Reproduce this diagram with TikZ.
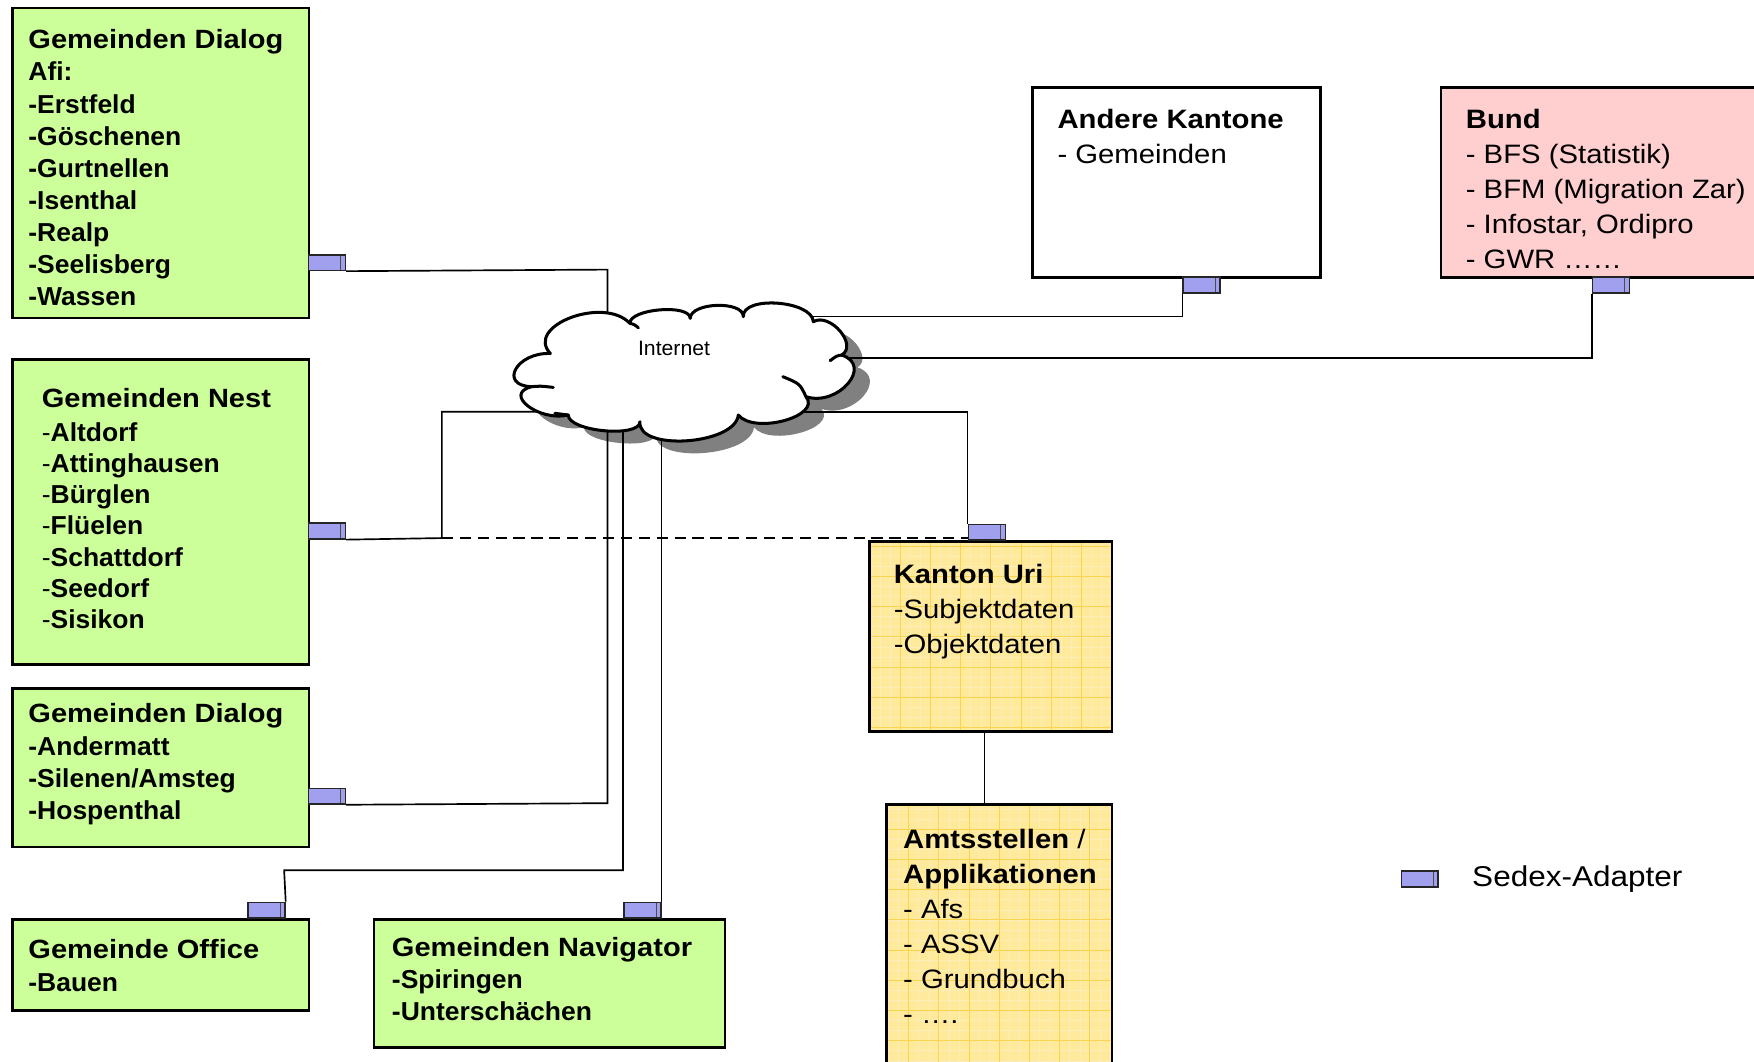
\documentclass[tikz,border=0pt]{standalone}
\usepackage{fontspec}
\setmainfont{Liberation Sans}
\newfontfamily\tfont{Liberation Sans}[FakeStretch=1.1]
\newfontfamily\lfont{Liberation Sans}[FakeStretch=1.02]

\definecolor{gfill}{RGB}{204,255,153}
\definecolor{pfill}{RGB}{255,206,206}
\definecolor{yfill}{RGB}{255,233,155}
\definecolor{ygrid}{RGB}{250,212,80}
\definecolor{afill}{RGB}{160,160,238}
\definecolor{shadowc}{RGB}{128,128,128}

\newcommand\cloudpath{(492,316) .. controls (468.7,291.3) and (539.7,264.3) .. (563,289)
 .. controls (563,275.9) and (617,271.5) .. (617,284.6)
 .. controls (617.3,270.1) and (664.8,268.6) .. (664.5,283.1)
 .. controls (663.4,264) and (726,268.5) .. (727.1,287.6)
 .. controls (742.1,278.9) and (767.4,308.7) .. (752.4,317.4)
 .. controls (781.1,326.7) and (749.2,363.9) .. (720.5,354.6)
 .. controls (734.8,372.2) and (674.3,388.6) .. (660,371)
 .. controls (657.3,397.7) and (569.4,403.7) .. (572.1,377)
 .. controls (572,391.7) and (507.9,385.7) .. (508,371)
 .. controls (481.8,377.2) and (449.1,351.9) .. (475.3,345.7)
 .. controls (445.3,344.6) and (461.7,314.8) .. (492,316) -- cycle}

\begin{document}
\begin{tikzpicture}[x=0.5pt,y=-0.5pt,
  box/.style={draw=black, line width=1.2pt, inner sep=0pt, anchor=north west},
  gbox/.style={box, fill=gfill},
  wbox/.style={box, fill=white},
  pbox/.style={box, fill=pfill},
  ybox/.style={box, fill=yfill, path picture={
     \draw[ygrid!40, line width=0.15pt, step=4.5pt] (path picture bounding box.south west) grid (path picture bounding box.north east);
     \draw[ygrid, line width=0.3pt, step=13.5pt] (path picture bounding box.south west) grid (path picture bounding box.north east);}},
  adapter/.style={draw=black!85, line width=0.7pt, fill=afill, inner sep=0pt, anchor=north west,
     minimum width=16.5pt, minimum height=7pt, path picture={
     \draw[black!70, line width=0.3pt] ([xshift=-2.2pt]path picture bounding box.north east) -- ([xshift=-2.2pt]path picture bounding box.south east);}},
  conn/.style={line width=0.75pt, black},
  cloudline/.style={draw=black, line width=1.35pt, line join=round, line cap=round},
  gtxt/.style={anchor=base west, align=left, inner sep=0pt, font=\lfont\bfseries\fontsize{11.6}{#1}\selectfont},
  gtxt/.default=14.35pt,
  rtxt/.style={anchor=base west, align=left, inner sep=0pt, font=\tfont\fontsize{11.9}{15.65}\selectfont}
]
\useasboundingbox (0,0) rectangle (1568,948.5);
\clip (0,0) rectangle (1568,948.5);

% cloud shadow
\fill[shadowc, shift={(14,11)}] \cloudpath;
\coordinate (cloudc) at (611,333);

% boxes
\node[gbox, minimum width=132.5pt, minimum height=138.5pt] (dialogA) at (10,6) {};
\node[gbox, minimum width=132.5pt, minimum height=136.5pt] (nest) at (10,320) {};
\node[gbox, minimum width=132.5pt, minimum height=71pt] (dialogB) at (10,614) {};
\node[gbox, minimum width=132.5pt, minimum height=40.5pt] (office) at (10,821) {};
\node[gbox, minimum width=157pt, minimum height=57pt] (navigator) at (333,821) {};
\node[wbox, minimum width=128.5pt, minimum height=85pt] (andere) at (922,77) {};
\node[pbox, minimum width=150pt, minimum height=85pt] (bund) at (1287,77) {};
\node[ybox, minimum width=108.5pt, minimum height=85pt] (kanton) at (776,483) {};
\node[ybox, minimum width=101pt, minimum height=130pt] (amt) at (791,718) {};

% adapters
\node[adapter] (adA) at (275,227) {};
\node[adapter] (adB) at (275,467) {};
\node[adapter] (adC) at (275,704) {};
\node[adapter] (adD) at (221,806) {};
\node[adapter] (adE) at (557,806) {};
\node[adapter] (adF) at (1057,247) {};
\node[adapter] (adG) at (1423,247) {};
\node[adapter] (adH) at (865,468) {};
\node[adapter] (adL) at (1252,778) {};

% junction coordinates
\coordinate (jA) at (543,241);
\coordinate (jB) at (395,481);
\coordinate (jB2) at (395,368);
\coordinate (jC) at (543,718);
\coordinate (jD1) at (254,778);
\coordinate (jD2) at (557,778);
\coordinate (jF) at (1057,283);
\coordinate (jG) at (1423,320);
\coordinate (jH) at (865,368);
\coordinate (jHI) at (880,0);

% connectors
\draw[conn] (adA.south east) -- (jA) -- (jA |- cloudc);
\draw[conn] (adB.south east) -- (jB) -- (jB2) -- (jB2 -| cloudc);
\draw[conn, dash pattern=on 5pt off 3pt] (jB) -- (jB -| adH.south west);
\draw[conn] (adC.south east) -- (jC) -- (jC |- cloudc);
\draw[conn] (adD.north east) -- (jD1) -- (jD2) -- (jD2 |- cloudc);
\draw[conn] (adE.north east) -- (adE.north east |- cloudc);
\draw[conn] (adF.south west) -- (jF) -- (jF -| cloudc);
\draw[conn] (adG.south west) -- (jG) -- (jG -| cloudc);
\draw[conn] (adH.north west) -- (jH) -- (jH -| cloudc);
\draw[conn] (kanton.south -| jHI) -- (amt.north -| jHI);

% cloud
\path[fill=white, cloudline] \cloudpath;
\draw[cloudline] (475.3,345.7) .. controls (483,345) .. (494.6,346.3);
\draw[cloudline] (720.5,354.6) .. controls (715,343) .. (699.8,336.7);
\draw[cloudline] (752.4,317.4) .. controls (748,318) .. (742.1,322.4);
\draw[cloudline] (563,289) .. controls (567,290) .. (570.7,293);
\draw[cloudline] (508,371) .. controls (502,370) .. (496,369.5);
\node[anchor=base west, inner sep=0pt, font=\lfont\fontsize{9.3}{11}\selectfont] (inet) at (570,317.4) {Internet};

% texts (anchored at the baseline of their last line)
\node[gtxt] (tA) at (25,273.3) {{\tfont\fontsize{11.8}{14.35}\selectfont Gemeinden Dialog}\\Afi:\\-Erstfeld\\-Göschenen\\-Gurtnellen\\-Isenthal\\-Realp\\-Seelisberg\\-Wassen};
\node[gtxt=13.9pt] (tB) at (37,561.6) {{\tfont\fontsize{11.8}{13.9}\selectfont Gemeinden Nest}\\[1.45pt]{\mdseries -}Altdorf\\{\mdseries -}Attinghausen\\{\mdseries -}Bürglen\\{\mdseries -}Flüelen\\{\mdseries -}Schattdorf\\{\mdseries -}Seedorf\\{\mdseries -}Sisikon};
\node[gtxt=14.5pt] (tC) at (25,733) {{\tfont\fontsize{11.8}{14.5}\selectfont Gemeinden Dialog}\\-Andermatt\\-Silenen/Amsteg\\-Hospenthal};
\node[gtxt=14.9pt] (tD) at (25,886.5) {{\tfont\fontsize{11.8}{14.9}\selectfont Gemeinde Office}\\-Bauen};
\node[gtxt=14.3pt] (tE) at (350,911.9) {{\tfont\fontsize{11.8}{14.3}\selectfont Gemeinden Navigator}\\-Spiringen\\-Unterschächen};
\node[rtxt] (tF) at (945,146.3) {{\bfseries Andere Kantone}\\- Gemeinden};
\node[rtxt] (tG) at (1310,240.2) {{\bfseries Bund}\\- BFS (Statistik)\\- BFM (Migration Zar)\\- Infostar, Ordipro\\- GWR ……};
\node[rtxt] (tH) at (798.6,583.8) {{\bfseries Kanton Uri}\\-Subjektdaten\\-Objektdaten};
\node[rtxt] (tI) at (807,914.8) {{\bfseries Amtsstellen} /\\{\bfseries Applikationen}\\- Afs\\- ASSV\\- Grundbuch\\- ….};

% legend
\node[anchor=base west, inner sep=0pt, font=\tfont\fontsize{12.8}{15}\selectfont] (legend) at (1315.7,792.7) {Sedex-Adapter};
\end{tikzpicture}
\end{document}
